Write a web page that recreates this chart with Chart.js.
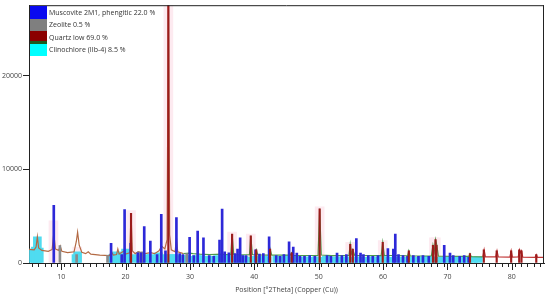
<!DOCTYPE html>
<html>
<head>
<meta charset="utf-8">
<script src="https://cdn.jsdelivr.net/npm/chart.js@4.4.0/dist/chart.umd.min.js"></script>
<style>
  html, body { margin: 0; padding: 0; background: #fff; }
  #wrap { position: relative; width: 550px; height: 297px; }
  #legend { position: absolute; left: 30px; top: 6px; font-family: "Open Sans", sans-serif; font-size: 7px; color: #333; }
  #legend .row { display: flex; align-items: center; height: 12.5px; }
  #legend .sw { width: 17px; height: 12.5px; margin-right: 2px; box-sizing: border-box; }
</style>
</head>
<body>
<div id="wrap">
  <canvas id="xrd" width="550" height="297"></canvas>
  <div id="legend"></div>
</div>
<script>
"use strict";

const obsX = [5.0, 5.8, 6.1, 6.3, 6.5, 7.0, 8.0, 8.6, 8.85, 9.1, 9.6, 9.85, 10.1, 11.0, 12.0, 12.35, 12.55, 12.8, 13.2, 13.8, 14.2, 14.6, 16.0, 17.5, 17.8, 18.1, 18.6, 18.8, 19.0, 19.8, 20.0, 20.65, 20.85, 21.05, 21.5, 22.0, 22.4, 23.0, 23.9, 24.5, 25.2, 25.6, 26.1, 26.45, 26.65, 26.85, 27.1, 27.7, 27.9, 28.1, 29.0, 29.9, 30.5, 31.5, 33.0, 35.0, 36.0, 36.35, 36.55, 36.8, 38.0, 39.25, 39.45, 39.7, 40.1, 40.3, 40.55, 42.25, 42.45, 42.7, 45.6, 45.8, 46.0, 49.9, 50.15, 50.4, 52.0, 54.7, 54.9, 55.1, 55.3, 55.6, 59.7, 59.95, 60.2, 61.9, 63.8, 64.0, 64.2, 67.5, 67.75, 67.95, 68.15, 68.35, 68.6, 73.3, 73.5, 73.7, 75.5, 75.7, 75.9, 77.5, 77.7, 77.9, 79.7, 79.9, 80.1, 81.0, 81.2, 81.35, 81.5, 81.7, 83.6, 83.8, 84.0, 85.0]
const obsY = [1450, 1400, 1700, 2800, 1600, 1350, 1250, 1450, 3200, 1500, 1350, 1800, 1250, 1100, 1200, 2300, 3300, 1900, 1150, 1000, 1200, 950, 850, 800, 1200, 850, 900, 1500, 950, 1300, 950, 1100, 5300, 1300, 1000, 1200, 1100, 1000, 1100, 1000, 1300, 1800, 1500, 2500, 29000, 3000, 1400, 1200, 2700, 1200, 1000, 1050, 1000, 950, 900, 950, 880, 900, 3100, 900, 870, 900, 2900, 900, 860, 1400, 860, 850, 1500, 850, 850, 1100, 820, 800, 5800, 850, 780, 800, 2000, 1000, 1400, 800, 780, 2200, 800, 800, 760, 1300, 760, 750, 1900, 1200, 2500, 1900, 720, 700, 1000, 680, 650, 1400, 650, 650, 1300, 650, 620, 1300, 620, 650, 1400, 1100, 1300, 620, 600, 900, 600, 600]

// Muscovite 2M1 sticks
const muscX = [8.85, 17.75, 19.4, 19.85, 20.8, 21.9, 22.4, 22.9, 23.85, 24.9, 25.55, 26.2, 27.9, 28.4, 28.9, 29.95, 30.6, 31.2, 32.1, 33.0, 33.7, 34.6, 35.0, 35.4, 36.05, 37.0, 37.4, 37.8, 38.2, 38.7, 40.2, 40.8, 41.4, 42.3, 43.4, 44.0, 44.6, 45.4, 46.05, 46.6, 47.1, 47.8, 48.6, 49.4, 51.3, 51.9, 52.85, 53.6, 54.3, 55.85, 56.5, 56.95, 57.7, 58.4, 59.2, 60.75, 61.6, 61.9, 62.4, 63.1, 63.8, 64.7, 65.5, 66.2, 67.1, 69.5, 70.4, 70.9, 71.9, 72.6, 73.3]
const muscY = [6150, 2100, 900, 5700, 2100, 1100, 1100, 3900, 2350, 900, 5200, 1300, 4850, 1000, 900, 2750, 800, 3400, 2700, 800, 700, 2450, 5750, 1200, 1100, 1000, 1500, 2700, 800, 800, 1400, 950, 1000, 2800, 800, 700, 900, 2250, 1700, 1050, 700, 700, 800, 700, 800, 700, 1050, 800, 900, 2600, 1050, 900, 800, 700, 800, 1550, 1500, 3100, 900, 800, 700, 800, 700, 800, 700, 1900, 1050, 800, 700, 800, 600]

// Zeolite sticks
const zeoX = [9.8, 12.4, 17.2, 22.0, 22.5, 29.5]
const zeoY = [1850, 900, 800, 1200, 1200, 1000]

// Quartz low sticks
const qtzX = [20.85, 26.65, 36.55, 39.45, 40.3, 42.45, 45.8, 50.15, 54.9, 55.3, 59.95, 64.0, 67.75, 68.15, 68.3, 73.5, 75.65, 77.65, 79.9, 81.15, 81.5, 83.8]
const qtzY = [5300, 29000, 3100, 2900, 1400, 1500, 1100, 5800, 2000, 1500, 2200, 1300, 1900, 2500, 1900, 1000, 1400, 1300, 1300, 1400, 1300, 900]

// Clinochlore sticks
const chlX = [5.7, 6.0, 6.3, 6.6, 12.3, 12.55, 18.0, 18.6, 19.0, 19.5, 20.0, 20.3, 21.5, 22.2, 23.2, 24.0, 24.6, 25.1, 25.9, 26.3, 27.0, 27.5, 28.6, 29.3, 30.3, 31.0, 31.7, 32.6, 33.4, 34.3, 35.3, 36.1, 36.9, 37.7, 38.4, 39.0, 40.0, 40.7, 41.4, 42.0, 43.5, 44.3, 44.9, 45.6, 46.4, 47.2, 48.0, 48.8, 49.6, 50.4, 51.2, 52.0, 52.8, 53.5, 54.2, 55.0, 55.8, 56.6, 57.4, 58.2, 59.0, 59.7, 60.4, 61.2, 62.0, 62.8, 63.6, 64.4, 65.2, 66.0, 66.8, 67.6, 68.4, 69.2, 70.0, 70.8, 71.6, 72.4, 73.2, 74.0, 74.8]
const chlY = [1500, 1700, 2800, 1600, 900, 1200, 900, 1200, 1000, 900, 1500, 1300, 900, 800, 900, 900, 800, 1100, 900, 800, 900, 900, 800, 800, 700, 800, 800, 700, 700, 800, 900, 800, 700, 800, 700, 600, 700, 650, 700, 650, 700, 650, 800, 650, 700, 600, 650, 600, 650, 600, 700, 600, 650, 600, 650, 600, 650, 600, 600, 650, 600, 800, 650, 600, 650, 600, 600, 650, 600, 650, 700, 650, 600, 600, 650, 600, 650, 600, 700, 650, 650]

// highlighted (pink) ranges
const hiX = [8.8, 12.5, 20.85, 26.65, 36.55, 39.45, 50.15, 54.9, 59.95, 67.9, 68.2]
const hiY = [4500, 1700, 5600, 29000, 3300, 3100, 6000, 2200, 2400, 2700, 2700]

const yTicks = [0, 10000, 20000]

const legendNames = ['Muscovite 2M1, phengitic 22.0 %', 'Zeolite 0.5 %', 'Quartz low 69.0 %', 'Clinochlore (IIb-4) 8.5 %']
const legendColors = ['#0a0af0', '#7f7f7f', '#8b0000', '#00ffff']

function pts(xs, ys) {
    return xs.map((x, i) => ({ x: x, y: ys[i] }))
}

function segColor(ctx) {
    const x = ctx.p0.parsed.x
    if (x < 28.5) return '#b36a44'
    if (x < 75.2) return '#4d9b4d'
    return '#c03434'
}

const bigTicks = {
    id: 'bigTicks',
    afterDraw(chart) {
        const c = chart.ctx, a = chart.chartArea, xs = chart.scales.x
        c.save()
        c.strokeStyle = '#222'
        c.lineWidth = 1
        c.beginPath()
        c.moveTo(a.left, a.top + 0.5); c.lineTo(a.right, a.top + 0.5)
        c.moveTo(a.right - 0.5, a.top); c.lineTo(a.right - 0.5, a.bottom)
        for (let v = 10; v <= 80; v += 10) {
            const px = Math.round(xs.getPixelForValue(v)) + 0.5
            c.moveTo(px, a.bottom); c.lineTo(px, a.bottom + 7)
        }
        c.stroke()
        c.restore()
    }
}

const tickFont = { family: '"Open Sans", sans-serif', size: 7 }

new Chart(document.getElementById('xrd'), {
    type: 'bar',
    data: {
        datasets: [
            { type: 'bar', data: pts(hiX, hiY), backgroundColor: '#fdeaf0', barThickness: 9, grouped: false, order: 10 },
            { type: 'bar', data: pts(chlX, chlY), backgroundColor: '#4fdcf0', barThickness: 8, grouped: false, order: 8 },
            { type: 'line', data: pts(obsX, obsY), borderColor: '#b36a44', borderWidth: 1.2, pointRadius: 0, tension: 0, segment: { borderColor: segColor }, order: 6 },
            { type: 'bar', data: pts(zeoX, zeoY), backgroundColor: '#8a8a8a', barThickness: 2, grouped: false, order: 5 },
            { type: 'bar', data: pts(muscX, muscY), backgroundColor: '#2d28d8', barThickness: 2, grouped: false, order: 4 },
            { type: 'bar', data: pts(qtzX, qtzY), backgroundColor: '#9b1b1b', barThickness: 1.5, grouped: false, order: 3 }
        ]
    },
    options: {
        responsive: false,
        animation: false,
        events: [],
        layout: { padding: { top: 4, right: 5, left: 0, bottom: 0 } },
        plugins: { legend: { display: false }, tooltip: { enabled: false } },
        scales: {
            x: {
                type: 'linear',
                min: 5, max: 85,
                offset: false,
                afterFit(scale) { scale.height = 34 },
                grid: { display: true, drawOnChartArea: false, tickLength: 4, color: '#222' },
                border: { color: '#222', width: 1 },
                ticks: {
                    stepSize: 1, autoSkip: false, maxRotation: 0, padding: 6,
                    color: '#444', font: tickFont,
                    callback: v => (v % 10 === 0 ? String(v) : '')
                },
                title: {
                    display: true, text: 'Position [°2Theta] (Copper (Cu))',
                    color: '#444', font: tickFont, padding: { top: 0, bottom: 3 }
                }
            },
            y: {
                type: 'linear',
                min: 0, max: 27550,
                afterFit(scale) { scale.width = 29 },
                afterBuildTicks(scale) { scale.ticks = yTicks.map(v => ({ value: v })) },
                grid: { display: true, drawOnChartArea: false, tickLength: 6, color: '#222' },
                border: { color: '#222', width: 1 },
                ticks: { padding: 1, color: '#444', font: tickFont, callback: v => String(v) }
            }
        }
    },
    plugins: [bigTicks]
})

// legend overlay
const lg = document.getElementById('legend')
legendNames.forEach((name, i) => {
    const row = document.createElement('div')
    row.className = 'row'
    const sw = document.createElement('div')
    sw.className = 'sw'
    sw.style.background = legendColors[i]
    if (i === 2) sw.style.borderBottom = '3px solid #1e5a1e'
    const t = document.createElement('span')
    t.textContent = name
    row.appendChild(sw)
    row.appendChild(t)
    lg.appendChild(row)
})
</script>
</body>
</html>
